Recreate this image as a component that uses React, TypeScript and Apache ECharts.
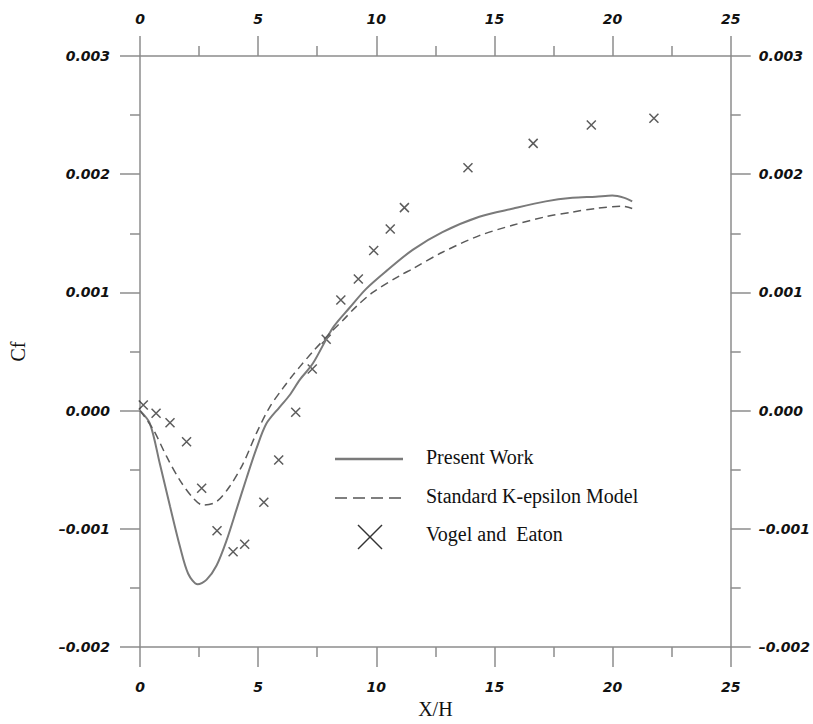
import React, { useEffect, useRef } from "react";
import * as echarts from "echarts";

// Present Work (solid line)
const presentX = [0, 0.42, 0.84, 1.27, 1.69, 2.04, 2.44, 2.82, 3.24, 3.66, 4.08, 4.51, 4.93, 5.35, 5.91, 6.33, 6.76, 7.32, 8.16, 8.87, 9.57, 10.42, 11.54, 12.8, 14.36, 15.8, 17.17, 18.3, 19.29, 19.99, 20.5, 20.83];
const presentY = [0, -0.00011, -0.00045, -0.00081, -0.00115, -0.00138, -0.00147, -0.00143, -0.00131, -0.0011, -0.00084, -0.00057, -0.00032, -0.00011, 0.00003, 0.00013, 0.00026, 0.0004, 0.0007, 0.00087, 0.00103, 0.00118, 0.00136, 0.00151, 0.00164, 0.00171, 0.00177, 0.0018, 0.00181, 0.00182, 0.0018, 0.00177];

// Standard K-epsilon Model (dashed line)
const kepsX = [0, 0.56, 1.13, 1.69, 2.25, 2.67, 3.24, 3.8, 4.36, 4.93, 5.49, 6.05, 6.47, 6.76, 7.32, 8.16, 8.57, 9.15, 9.85, 10.98, 11.54, 12.8, 14.36, 15.8, 17.17, 18.3, 19.29, 20.41, 20.83];
const kepsY = [0, -0.00016, -0.00039, -0.00059, -0.00074, -0.0008, -0.00077, -0.00064, -0.00045, -0.00019, 0.00003, 0.00019, 0.0003, 0.00037, 0.0005, 0.00068, 0.00076, 0.00088, 0.001, 0.00114, 0.0012, 0.00134, 0.00148, 0.00157, 0.00164, 0.00168, 0.00171, 0.00173, 0.00171];

// Vogel and Eaton (experiment)
const vogelX = [0.14, 0.68, 1.27, 1.97, 2.61, 3.26, 3.94, 4.43, 5.24, 5.87, 6.59, 7.29, 7.88, 8.5, 9.24, 9.89, 10.59, 11.19, 13.88, 16.64, 19.1, 21.75];
const vogelY = [0.000047, -0.000023, -0.000102, -0.000263, -0.000657, -0.001016, -0.001194, -0.001131, -0.000776, -0.000418, -0.000014, 0.000352, 0.000604, 0.000936, 0.001113, 0.001354, 0.001536, 0.001717, 0.002055, 0.002261, 0.002416, 0.002473];

const legendNames = ["Present Work", "Standard K-epsilon Model", "Vogel and  Eaton"];

const axisColor = "#8c8c8c";
const labelFont = {
  fontFamily: "DejaVu Sans",
  fontStyle: "italic" as const,
  fontWeight: "bold" as const,
  fontSize: 14,
  color: "#111",
};

const yFmt = (v: number) => {
  if (Math.abs(v) < 1e-9) return "0.000";
  const s = v.toFixed(3);
  return s.replace("-", "\u2013");
};

function makeX(position: "top" | "bottom", margin: number, withName: boolean) {
  return {
    type: "value",
    position,
    min: 0,
    max: 25,
    interval: 5,
    axisLine: { show: true, onZero: false, lineStyle: { color: axisColor, width: 1.5 } },
    axisTick: { show: true, inside: false, length: 20, lineStyle: { color: axisColor, width: 1.5 } },
    minorTick: { show: true, splitNumber: 2, length: 10, lineStyle: { color: axisColor, width: 1.5 } },
    splitLine: { show: false },
    minorSplitLine: { show: false },
    axisLabel: { ...labelFont, margin },
    ...(withName
      ? {
          name: "X/H",
          nameLocation: "middle",
          nameGap: 52,
          nameTextStyle: { fontFamily: "Liberation Serif", fontSize: 20, color: "#111" },
        }
      : {}),
  };
}

function makeY(position: "left" | "right", margin: number, withName: boolean) {
  return {
    type: "value",
    position,
    min: -0.002,
    max: 0.003,
    interval: 0.001,
    axisLine: { show: true, onZero: false, lineStyle: { color: axisColor, width: 1.5 } },
    axisTick: { show: true, inside: false, length: 20, lineStyle: { color: axisColor, width: 1.5 } },
    minorTick: { show: true, splitNumber: 2, length: 10, lineStyle: { color: axisColor, width: 1.5 } },
    splitLine: { show: false },
    minorSplitLine: { show: false },
    axisLabel: { ...labelFont, margin, formatter: yFmt },
    ...(withName
      ? {
          name: "Cf",
          nameLocation: "middle",
          nameRotate: 90,
          nameGap: 112,
          nameTextStyle: { fontFamily: "Liberation Serif", fontSize: 20, color: "#111" },
        }
      : {}),
  };
}

const zip = (xs: number[], ys: number[]) => xs.map((x, i) => [x, ys[i]]);

export default function App() {
  const ref = useRef<HTMLDivElement>(null);
  useEffect(() => {
    if (!ref.current) return;
    const chart = echarts.init(ref.current, null, { renderer: "svg" });
    const legendText = (i: number, y: number) => ({
      type: "text",
      left: 426,
      top: y - 11,
      style: {
        text: legendNames[i],
        fontFamily: "Liberation Serif",
        fontSize: 20,
        fill: "#111",
      },
    });
    chart.setOption({
      animation: false,
      backgroundColor: "#fff",
      grid: { left: 140, right: 81, top: 56, bottom: 77, containLabel: false },
      xAxis: [makeX("bottom", 33, true), makeX("top", 30, false)],
      yAxis: [makeY("left", 30, true), makeY("right", 28, false)],
      series: [
        {
          name: legendNames[0],
          type: "line",
          xAxisIndex: 0,
          yAxisIndex: 0,
          data: zip(presentX, presentY),
          smooth: 0.3,
          showSymbol: false,
          symbol: "none",
          lineStyle: { color: "#7a7a7a", width: 2 },
        },
        {
          name: legendNames[1],
          type: "line",
          xAxisIndex: 0,
          yAxisIndex: 0,
          data: zip(kepsX, kepsY),
          smooth: 0.3,
          showSymbol: false,
          symbol: "none",
          lineStyle: { color: "#5a5a5a", width: 1.5, type: [8, 5] },
        },
        {
          name: legendNames[2],
          type: "scatter",
          xAxisIndex: 0,
          yAxisIndex: 0,
          data: zip(vogelX, vogelY),
          symbol: "path://M0,0L10,10M10,0L0,10",
          symbolSize: 9,
          itemStyle: { color: "transparent", borderColor: "#333", borderWidth: 1.5 },
        },
      ],
      graphic: [
        { type: "line", shape: { x1: 335, y1: 459, x2: 403, y2: 459 }, style: { stroke: "#7a7a7a", lineWidth: 2.5 } },
        { type: "line", shape: { x1: 335, y1: 498, x2: 401, y2: 498 }, style: { stroke: "#555", lineWidth: 1.5, lineDash: [12, 6] } },
        { type: "line", shape: { x1: 358, y1: 525, x2: 382, y2: 549 }, style: { stroke: "#333", lineWidth: 1.5 } },
        { type: "line", shape: { x1: 382, y1: 525, x2: 358, y2: 549 }, style: { stroke: "#333", lineWidth: 1.5 } },
        legendText(0, 458),
        legendText(1, 497),
        legendText(2, 535),
      ],
    });
    return () => chart.dispose();
  }, []);
  return (
    <div
      ref={ref}
      style={{ position: "fixed", left: 0, top: 0, width: 813, height: 724, background: "#fff" }}
    />
  );
}
